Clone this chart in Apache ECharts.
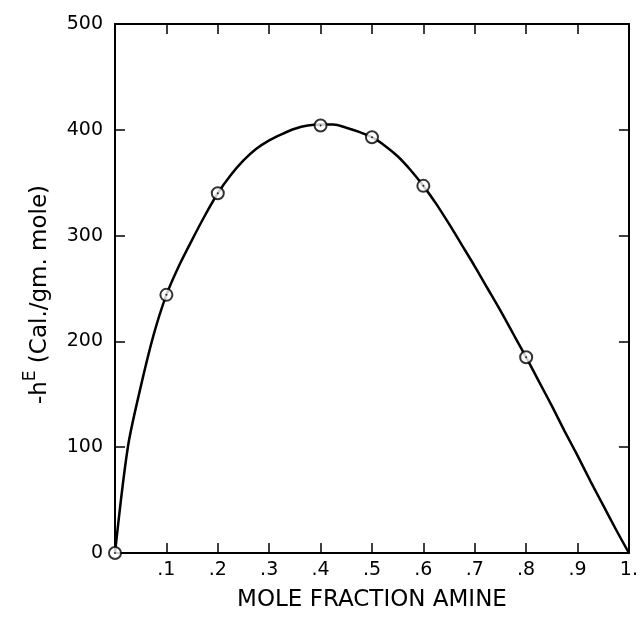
<!DOCTYPE html>
<html>
<head>
<meta charset="utf-8">
<script src="https://cdn.jsdelivr.net/npm/echarts@6/dist/echarts.min.js"></script>
<style>
  html, body { margin: 0; padding: 0; background: #fff; }
  #chart { width: 641px; height: 617px; }
</style>
</head>
<body>
<div id="chart"></div>
<script>
// measured points (mole fraction amine, -hE in cal/gm mole)
var measX = [0, 0.1, 0.2, 0.4, 0.5, 0.6, 0.8];
var measY = [0, 244, 340, 404, 393, 347, 185];

// the drawn curve, every 0.025
var curveX = [0, 0.025, 0.05, 0.075, 0.1, 0.125, 0.15, 0.175, 0.2, 0.225, 0.25, 0.275, 0.3, 0.325,
    0.35, 0.375, 0.4, 0.425, 0.45, 0.475, 0.5, 0.525, 0.55, 0.575, 0.6, 0.625, 0.65, 0.675,
    0.7, 0.725, 0.75, 0.775, 0.8, 0.825, 0.85, 0.875, 0.9, 0.925, 0.95, 0.975, 1.0];
var curveY = [0, 100, 157, 206, 244, 272, 296, 319, 340, 357, 371, 382, 390, 396,
    401, 404, 405, 405, 402, 398, 393, 385, 375, 362, 347, 330, 311, 291,
    271, 250, 229, 207, 185, 162, 139, 115, 92, 68, 45, 22, 0];

var xTicks = ['', '.1', '.2', '.3', '.4', '.5', '.6', '.7', '.8', '.9', '1.'];

var FONT = 'DejaVu Sans';

function pairs(xs, ys) {
    var out = [];
    for (var i = 0; i < xs.length; i++) out.push([xs[i], ys[i]]);
    return out;
}

function frameLine() {
    return { onZero: false, lineStyle: { color: '#000', width: 2 } };
}
function inTick() {
    return { show: true, inside: true, length: 10, lineStyle: { color: '#000', width: 1.5 } };
}

var chart = echarts.init(document.getElementById('chart'), null, { renderer: 'canvas' });

chart.setOption({
    animation: false,
    backgroundColor: '#fff',
    grid: { left: 115, right: 4, top: 24, bottom: 63 },
    xAxis: [{
        type: 'value', min: 0, max: 1, interval: 0.1,
        position: 'bottom',
        name: 'MOLE FRACTION AMINE',
        nameLocation: 'middle', nameGap: 36,
        nameTextStyle: { fontFamily: FONT, fontSize: 23, color: '#000' },
        axisLine: frameLine(), axisTick: inTick(),
        splitLine: { show: false },
        axisLabel: {
            margin: 8, fontFamily: FONT, fontSize: 19, color: '#000',
            formatter: function (v) { return xTicks[Math.round(v * 10)]; }
        }
    }, {
        type: 'value', min: 0, max: 1, interval: 0.1,
        position: 'top',
        axisLine: frameLine(), axisTick: inTick(),
        splitLine: { show: false }, axisLabel: { show: false }
    }],
    yAxis: [{
        type: 'value', min: 0, max: 500, interval: 100,
        position: 'left',
        name: '-h{sup|E} (Cal./gm. mole)',
        nameLocation: 'middle', nameGap: 56, nameRotate: 90,
        nameTextStyle: {
            fontFamily: FONT, fontSize: 23, color: '#000',
            padding: [0, 12, 0, 0],
            rich: { sup: { fontFamily: FONT, fontSize: 17, color: '#000', padding: [0, 0, 20, 0] } }
        },
        axisLine: frameLine(), axisTick: inTick(),
        splitLine: { show: false },
        axisLabel: { margin: 12, fontFamily: FONT, fontSize: 19, color: '#000' }
    }, {
        type: 'value', min: 0, max: 500, interval: 100,
        position: 'right',
        axisLine: frameLine(), axisTick: inTick(),
        splitLine: { show: false }, axisLabel: { show: false }
    }],
    series: [{
        type: 'line',
        data: pairs(curveX, curveY),
        smooth: 0.3,
        showSymbol: false,
        lineStyle: { color: '#000', width: 2.5 },
        z: 2
    }, {
        type: 'scatter',
        data: pairs(measX, measY),
        symbol: 'circle',
        symbolSize: 12,
        itemStyle: { color: '#fff', borderColor: '#000', borderWidth: 2 },
        z: 3
    }, {
        type: 'scatter',
        data: pairs(measX, measY),
        symbol: 'circle',
        symbolSize: 2,
        itemStyle: { color: '#000' },
        z: 4
    }]
});
</script>
</body>
</html>
